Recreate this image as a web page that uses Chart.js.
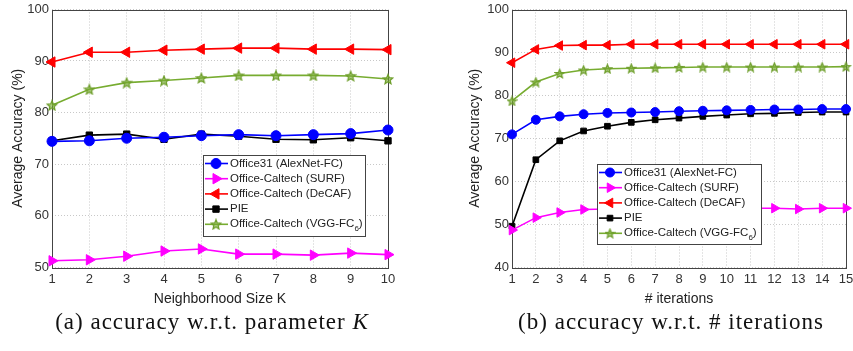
<!DOCTYPE html>
<html>
<head>
<meta charset="utf-8">
<script src="https://cdn.jsdelivr.net/npm/chart.js@4.4.1/dist/chart.umd.min.js"></script>
<style>
  html, body { margin: 0; padding: 0; background: #fff; overflow: hidden; }
  body { width: 853px; height: 351px; position: relative; }
  .wrap { position: absolute; top: 0; height: 312px; }
  .cap { position: absolute; top: 309px; font-family: "Liberation Serif", "DejaVu Serif", serif; font-size: 23px; letter-spacing: 1px; color: #111; white-space: nowrap; transform: translateX(-50%); }
</style>
</head>
<body>
<div class="wrap" style="left:0; width:410px;"><canvas id="chartK"></canvas></div>
<div class="wrap" style="left:455px; width:405px;"><canvas id="chartIter"></canvas></div>
<div class="cap" style="left:212px;">(a) accuracy w.r.t. parameter <i>K</i></div>
<div class="cap" style="left:671px;">(b) accuracy w.r.t. # iterations</div>
<script>
// data
const seriesNames = ['Office31 (AlexNet-FC)', 'Office-Caltech (SURF)', 'Office-Caltech (DeCAF)', 'PIE', 'Office-Caltech (VGG-FC6)'];

const kLabels = ['1', '2', '3', '4', '5', '6', '7', '8', '9', '10'];
const kOffice31 = [74.4, 74.5, 75.0, 75.2, 75.5, 75.7, 75.5, 75.7, 75.9, 76.6];
const kSurf     = [51.2, 51.4, 52.1, 53.1, 53.5, 52.5, 52.5, 52.3, 52.7, 52.4];
const kDecaf    = [89.8, 91.7, 91.7, 92.1, 92.3, 92.5, 92.5, 92.3, 92.3, 92.2];
const kPie      = [74.5, 75.6, 75.8, 74.8, 75.8, 75.4, 74.8, 74.7, 75.1, 74.5];
const kVgg      = [81.4, 84.5, 85.8, 86.2, 86.7, 87.2, 87.2, 87.2, 87.1, 86.5];

const iterLabels = ['1', '2', '3', '4', '5', '6', '7', '8', '9', '10', '11', '12', '13', '14', '15'];
const itOffice31 = [70.9, 74.3, 75.1, 75.6, 75.9, 76.0, 76.1, 76.3, 76.4, 76.5, 76.6, 76.7, 76.7, 76.8, 76.8];
const itSurf     = [48.6, 51.5, 52.7, 53.4, 53.5, 53.5, 53.6, 53.6, 53.6, 53.6, 53.7, 53.7, 53.5, 53.7, 53.7];
const itDecaf    = [87.6, 90.7, 91.6, 91.7, 91.7, 91.9, 91.9, 91.9, 91.9, 91.9, 91.9, 91.9, 91.9, 91.9, 91.9];
const itPie      = [49.5, 65.0, 69.4, 71.7, 72.8, 73.7, 74.3, 74.7, 75.1, 75.4, 75.7, 75.8, 76.0, 76.1, 76.1];
const itVgg      = [78.7, 83.1, 85.1, 85.9, 86.2, 86.3, 86.4, 86.5, 86.6, 86.6, 86.6, 86.6, 86.6, 86.6, 86.7];

const colors = ['#0000ff', '#ff00ff', '#ff0000', '#000000', '#77ac30'];
const sans = '"Liberation Sans", Arial, sans-serif';

// five point star marker (Chart.js 'star' is an asterisk)
function makeStar(size) {
  const c = document.createElement('canvas');
  c.width = size; c.height = size;
  const ctx = c.getContext('2d');
  const cx = size / 2, cy = size / 2 + 0.5, ro = size / 2 - 1, ri = ro * 0.45;
  ctx.beginPath();
  for (let i = 0; i < 10; i++) {
    const r = i % 2 ? ri : ro;
    const a = -Math.PI / 2 + i * Math.PI / 5;
    ctx.lineTo(cx + r * Math.cos(a), cy + r * Math.sin(a));
  }
  ctx.closePath();
  ctx.fillStyle = 'rgba(119,172,48,0.6)';
  ctx.fill();
  ctx.strokeStyle = '#6f9f2c';
  ctx.lineWidth = 1.3;
  ctx.stroke();
  return c;
}

function makeDatasets(vals, r) {
  const styles = [
    { pointStyle: 'circle', rotation: 0, radius: r },
    { pointStyle: 'triangle', rotation: 90, radius: r + 1 },
    { pointStyle: 'triangle', rotation: -90, radius: r + 1 },
    { pointStyle: 'rect', rotation: 0, radius: r - 0.5 },
    { pointStyle: makeStar(Math.round(2 * r + 2)), rotation: 0, radius: r },
  ];
  return vals.map((v, i) => ({
    label: seriesNames[i],
    data: v,
    borderColor: colors[i],
    backgroundColor: colors[i],
    pointBackgroundColor: colors[i],
    pointBorderColor: colors[i],
    borderWidth: 1.6,
    pointStyle: styles[i].pointStyle,
    pointRotation: styles[i].rotation,
    pointRadius: styles[i].radius,
    pointBorderWidth: 1,
    tension: 0,
  }));
}

// axes box
const frame = {
  id: 'frame',
  beforeDatasetsDraw(chart) {
    const a = chart.chartArea, ctx = chart.ctx;
    ctx.save();
    ctx.strokeStyle = '#444';
    ctx.lineWidth = 1;
    ctx.strokeRect(Math.round(a.left) + 0.5, Math.round(a.top) + 0.5, Math.round(a.right - a.left), Math.round(a.bottom - a.top));
    ctx.restore();
  }
};

// legend box inside the plot
const boxLegend = {
  id: 'boxLegend',
  afterDatasetsDraw(chart, args, opts) {
    const a = chart.chartArea, ctx = chart.ctx;
    const x = Math.round(a.left + opts.dx), y = Math.round(a.top + opts.dy);
    ctx.save();
    ctx.fillStyle = '#fff';
    ctx.fillRect(x, y, opts.w, opts.h);
    ctx.strokeStyle = '#444';
    ctx.lineWidth = 1;
    ctx.strokeRect(x + 0.5, y + 0.5, opts.w, opts.h);
    chart.data.datasets.forEach((ds, i) => {
      const cy = y + opts.first + i * opts.row;
      ctx.strokeStyle = ds.borderColor;
      ctx.lineWidth = ds.borderWidth;
      ctx.beginPath();
      ctx.moveTo(x + 2, cy);
      ctx.lineTo(x + 25, cy);
      ctx.stroke();
      ctx.fillStyle = ds.pointBackgroundColor;
      ctx.strokeStyle = ds.pointBorderColor;
      ctx.lineWidth = 1;
      Chart.helpers.drawPoint(ctx, { pointStyle: ds.pointStyle, rotation: ds.pointRotation, radius: ds.pointRadius, borderWidth: 1 }, x + 13, cy);
      ctx.fillStyle = '#222';
      ctx.font = '11.5px ' + sans;
      ctx.textBaseline = 'middle';
      let label = ds.label, tx = x + 27;
      if (label.endsWith('FC6)')) {
        const head = label.slice(0, -2);
        ctx.fillText(head, tx, cy);
        tx += ctx.measureText(head).width;
        ctx.font = '8px ' + sans;
        ctx.fillText('6', tx, cy + 4);
        tx += ctx.measureText('6').width;
        ctx.font = '11.5px ' + sans;
        ctx.fillText(')', tx, cy);
      } else {
        ctx.fillText(label, tx, cy);
      }
    });
    ctx.restore();
  }
};

function makeChart(id, labels, vals, yMin, axisW, yTitlePad, padRight, xTitle, legendPos, r) {
  return new Chart(document.getElementById(id), {
    type: 'line',
    data: { labels: labels, datasets: makeDatasets(vals, r) },
    plugins: [frame, boxLegend],
    options: {
      responsive: false,
      animation: false,
      layout: { padding: { top: 8, right: padRight, left: 0, bottom: 0 } },
      plugins: {
        legend: { display: false },
        tooltip: { enabled: false },
        boxLegend: legendPos,
      },
      scales: {
        x: {
          offset: false,
          grid: { color: '#c8c8c8', drawTicks: false },
          border: { display: false, dash: [1, 2] },
          ticks: { color: '#333', font: { size: 13, family: sans, lineHeight: 1 }, padding: 6, maxRotation: 0, autoSkip: false },
          title: { display: true, text: xTitle, color: '#222', font: { size: 14, family: sans }, padding: { top: 0, bottom: 4 } },
          afterFit: (s) => { s.height = 45; },
        },
        y: {
          min: yMin, max: 100,
          grid: { color: '#c8c8c8', drawTicks: false },
          border: { display: false, dash: [1, 2] },
          ticks: { stepSize: 10, color: '#333', font: { size: 13, family: sans, lineHeight: 1 }, padding: 3 },
          title: { display: true, text: 'Average Accuracy (%)', color: '#222', font: { size: 14, family: sans }, padding: { top: yTitlePad, bottom: 0 } },
          afterFit: (s) => { s.width = axisW; },
        },
      },
    },
  });
}

function sizeCanvas(id, w, h) {
  const c = document.getElementById(id);
  c.width = w; c.height = h;
  c.style.width = w + 'px'; c.style.height = h + 'px';
}
sizeCanvas('chartK', 410, 312);
sizeCanvas('chartIter', 405, 312);

makeChart('chartK', kLabels, [kOffice31, kSurf, kDecaf, kPie, kVgg], 50, 52, 10, 22,
  'Neighborhood Size K', { dx: 151, dy: 145, w: 162, h: 81, first: 8.5, row: 15.2 }, 5);
makeChart('chartIter', iterLabels, [itOffice31, itSurf, itDecaf, itPie, itVgg], 40, 57, 12, 14,
  '# iterations', { dx: 85, dy: 154, w: 164, h: 80, first: 8.5, row: 15.2 }, 4.5);
</script>
</body>
</html>
